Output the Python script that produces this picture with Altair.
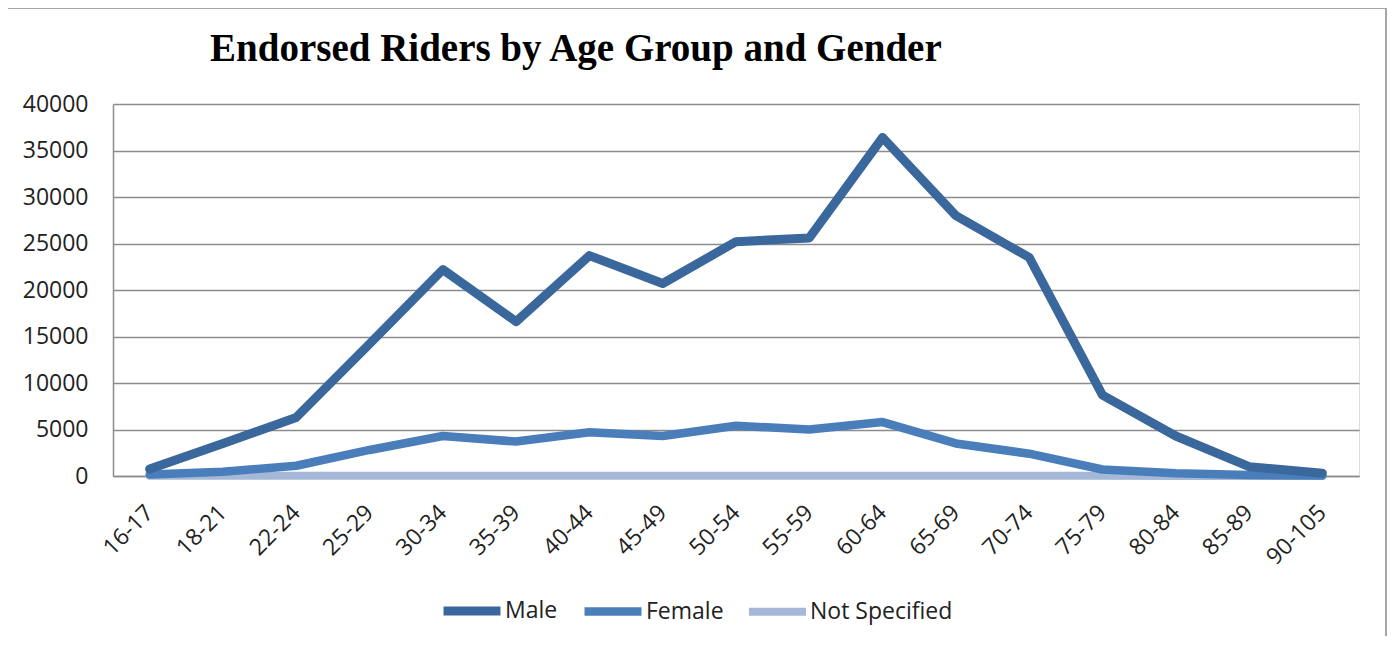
import altair as alt
import pandas as pd

ages = ["16-17", "18-21", "22-24", "25-29", "30-34", "35-39", "40-44", "45-49",
        "50-54", "55-59", "60-64", "65-69", "70-74", "75-79", "80-84", "85-89", "90-105"]
male = [750, 3500, 6300, 14200, 22200, 16600, 23700, 20700, 25200, 25600,
        36400, 28000, 23500, 8700, 4300, 1000, 300]
female = [150, 450, 1100, 2800, 4300, 3700, 4700, 4300, 5400, 5000,
          5800, 3500, 2400, 700, 300, 100, 50]
not_specified = [20, 30, 40, 40, 40, 40, 40, 40, 40, 40, 40, 30, 30, 20, 10, 10, 5]

series = ["Male", "Female", "Not Specified"]
colors = ["#3A679C", "#4A7EBB", "#A5B8D8"]
widths = [9, 8, 7]

rows = []
for name, vals in [("Not Specified", not_specified), ("Female", female), ("Male", male)]:
    for a, v in zip(ages, vals):
        rows.append({"age": a, "riders": v, "gender": name})
df = pd.DataFrame(rows)

FONT = "Open Sans"
FS = 23

lines = alt.Chart(df).mark_line(strokeJoin="round", strokeCap="round").encode(
    x=alt.X("age:N", sort=ages, title=None,
            axis=alt.Axis(labelAngle=-45, ticks=False, labelPadding=25, labelOffset=-8,
                          labelFont=FONT, labelFontSize=FS, labelColor="#222222",
                          domainColor="#8C8C8C", domainWidth=1.5, grid=False)),
    y=alt.Y("riders:Q", title=None,
            scale=alt.Scale(domain=[0, 40000], nice=False),
            axis=alt.Axis(values=list(range(0, 40001, 5000)), format="d", ticks=False,
                          labelPadding=25, labelFont=FONT, labelFontSize=FS,
                          labelColor="#222222", domainColor="#8C8C8C", domainWidth=1.5,
                          gridColor="#8C8C8C", gridWidth=1.5)),
    color=alt.Color("gender:N", scale=alt.Scale(domain=series, range=colors),
                    legend=alt.Legend(title=None, orient="none", direction="horizontal",
                                      legendX=326, legendY=474,
                                      symbolType="stroke", symbolSize=3249,
                                      symbolStrokeWidth=9, labelFont=FONT,
                                      labelFontSize=FS, labelColor="#222222",
                                      labelOffset=0, columnPadding=9)),
    strokeWidth=alt.StrokeWidth("gender:N", scale=alt.Scale(domain=series, range=widths),
                                legend=None),
)

frame_df = pd.DataFrame({"k": [0]})
frame = alt.Chart(frame_df).mark_rect(fill=None, stroke="#A6A6A6", strokeWidth=2).encode(
    x=alt.value(-106), x2=alt.value(1273), y=alt.value(-96), y2=alt.value(600)
)

chart = alt.layer(frame, lines).properties(
    width=1246, height=372,
    title=alt.TitleParams("Endorsed Riders by Age Group and Gender", anchor="start",
                          frame="group", dx=97, dy=62, offset=0, font="Liberation Serif",
                          fontSize=39, fontWeight="bold", color="#000000"),
    autosize=alt.AutoSizeParams(type="none"),
    padding={"left": 105, "top": 96, "right": 28, "bottom": 160},
).configure_view(stroke=None).configure(background="white")

chart.save("out.html", embed_options={"renderer": "svg", "actions": False})
